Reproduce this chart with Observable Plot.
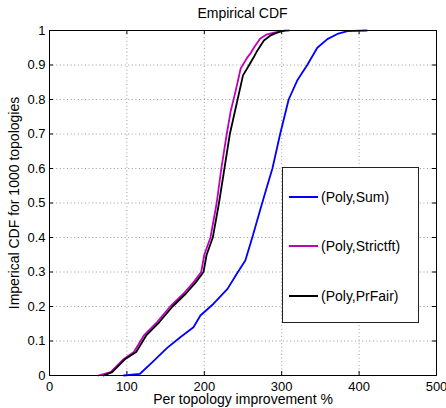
<!DOCTYPE html>
<html>
<head>
<meta charset="utf-8">
<script src="https://cdn.jsdelivr.net/npm/d3@7"></script>
<script src="https://cdn.jsdelivr.net/npm/@observablehq/plot@0.6"></script>
<style>
  body { margin: 0; background: white; font-family: "Liberation Sans", Arial, Helvetica, sans-serif; }
  #wrap { position: relative; width: 446px; height: 408px; }
  #title { position: absolute; top: 1px; left: 49px; width: 387px; text-align: center; font-size: 14px; line-height: 24px; color: #000; }
  #chart { position: absolute; top: 24px; left: 0; }
  #legend { position: absolute; left: 282px; top: 167px; width: 135px; height: 154px; border: 1px solid #222; background: white; }
  .row { position: absolute; left: 0; height: 20px; width: 135px; }
  .sw { position: absolute; left: 6px; top: 9px; width: 29px; height: 2px; }
  .lab { position: absolute; left: 38px; top: 0; font-size: 14px; line-height: 20px; color: #000; white-space: nowrap; }
</style>
</head>
<body>
<div id="wrap">
  <div id="title"></div>
  <div id="chart"></div>
  <div id="legend"></div>
</div>
<script>
const titleText = "Empirical CDF";
const xLabel = "Per topology improvement %";
const yLabel = "Imperical CDF for 1000 topologies";

const xTicks = [0, 100, 200, 300, 400, 500];
const xTickLabels = ["0", "100", "200", "300", "400", "500"];
const yTicks = [0, 0.1, 0.2, 0.3, 0.4, 0.5, 0.6, 0.7, 0.8, 0.9, 1];
const yTickLabels = ["0", "0.1", "0.2", "0.3", "0.4", "0.5", "0.6", "0.7", "0.8", "0.9", "1"];

const seriesNames = ["(Poly,Sum)", "(Poly,Strictft)", "(Poly,PrFair)"];
const seriesColors = ["#0000ff", "#bf00bf", "#000000"];

// (Poly,Sum)
const sumX = [96, 117, 135, 152, 169, 186, 195, 212, 230, 242, 253, 262, 272, 280, 288, 298, 309, 320, 333, 346, 359, 372, 385, 410];
const sumY = [0, 0.005, 0.043, 0.08, 0.111, 0.14, 0.174, 0.208, 0.251, 0.295, 0.333, 0.4, 0.478, 0.54, 0.6, 0.7, 0.8, 0.855, 0.9, 0.95, 0.975, 0.99, 0.998, 1.0];

// (Poly,Strictft)
const strictX = [63, 79, 96, 109, 122, 139, 156, 173, 186, 196, 200, 208, 216, 222, 229, 234, 240, 247, 255, 260, 264, 272, 280, 290, 300, 309];
const strictY = [0, 0.01, 0.048, 0.068, 0.116, 0.155, 0.2, 0.237, 0.27, 0.3, 0.35, 0.4, 0.5, 0.6, 0.7, 0.765, 0.82, 0.89, 0.92, 0.935, 0.95, 0.976, 0.988, 0.994, 0.998, 1.0];

// (Poly,PrFair)
const prfairX = [70, 81, 98, 112, 125, 142, 159, 176, 189, 199, 203, 211, 219, 226, 233, 237, 243, 250, 258, 264, 268, 277, 285, 290, 296, 304];
const prfairY = [0, 0.01, 0.048, 0.068, 0.116, 0.155, 0.2, 0.237, 0.27, 0.3, 0.35, 0.4, 0.5, 0.6, 0.7, 0.74, 0.8, 0.87, 0.9, 0.923, 0.94, 0.971, 0.985, 0.99, 0.995, 1.0];

const toRows = (xs, ys) => xs.map((x, i) => ({x, y: ys[i]}));
const series = [toRows(sumX, sumY), toRows(strictX, strictY), toRows(prfairX, prfairY)];

document.getElementById("title").textContent = titleText;

const W = 446, H = 384, mL = 49, mR = 10, mT = 6, mB = 33;
const frameH = H - mT - mB, frameW = W - mL - mR;
const tickLen = 4;
const gridStyle = {stroke: "#9a9a9a", strokeOpacity: 1, strokeWidth: 1, strokeDasharray: "1,2.6"};

const chart = Plot.plot({
  width: W, height: H,
  marginLeft: mL, marginRight: mR, marginTop: mT, marginBottom: mB,
  x: {domain: [0, 500]},
  y: {domain: [0, 1]},
  style: {fontFamily: "'Liberation Sans', Arial, Helvetica, sans-serif", fontSize: "13px", background: "white", color: "black", overflow: "visible"},
  marks: [
    Plot.gridX(xTicks, gridStyle),
    Plot.gridY(yTicks, gridStyle),
    Plot.axisX(xTicks, {tickSize: 0, tickPadding: 6.5, label: null, fontSize: 13, tickFormat: (d, i) => xTickLabels[i]}),
    Plot.axisY(yTicks, {tickSize: 0, tickPadding: 4, label: null, fontSize: 13, tickFormat: (d, i) => yTickLabels[i]}),
    Plot.tickX(xTicks, {x: d => d, insetTop: frameH - tickLen, stroke: "black"}),
    Plot.tickX(xTicks, {x: d => d, insetBottom: frameH - tickLen, stroke: "black"}),
    Plot.tickY(yTicks, {y: d => d, insetRight: frameW - tickLen, stroke: "black"}),
    Plot.tickY(yTicks, {y: d => d, insetLeft: frameW - tickLen, stroke: "black"}),
    ...series.map((s, i) => Plot.line(s, {x: "x", y: "y", stroke: seriesColors[i], strokeWidth: 1.8, strokeLinejoin: "round"})),
    Plot.frame({stroke: "black", strokeWidth: 1}),
    Plot.text([xLabel], {frameAnchor: "bottom", dy: 24.5, textAnchor: "middle", lineAnchor: "middle", fontSize: 14, fill: "black"}),
    Plot.text([yLabel], {frameAnchor: "left", dx: -34.5, rotate: -90, textAnchor: "middle", lineAnchor: "middle", fontSize: 14, fill: "black"})
  ]
});
document.getElementById("chart").appendChild(chart);

const legend = document.getElementById("legend");
const rowCenters = [28.5, 78, 128];
seriesNames.forEach((name, i) => {
  const row = document.createElement("div");
  row.className = "row";
  row.style.top = (rowCenters[i] - 10) + "px";
  const sw = document.createElement("div");
  sw.className = "sw";
  sw.style.background = seriesColors[i];
  const lab = document.createElement("div");
  lab.className = "lab";
  lab.textContent = name;
  row.appendChild(sw);
  row.appendChild(lab);
  legend.appendChild(row);
});
</script>
</body>
</html>
